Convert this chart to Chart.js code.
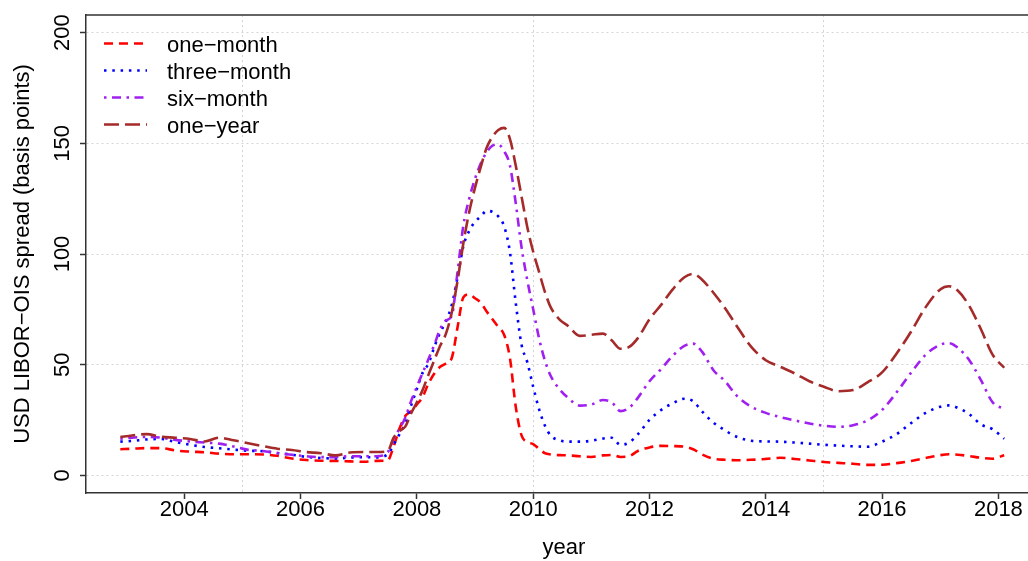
<!DOCTYPE html>
<html>
<head>
<meta charset="utf-8">
<title>USD LIBOR−OIS spread</title>
<script src="https://cdn.jsdelivr.net/npm/chart.js@4.4.1/dist/chart.umd.min.js"></script>
<style>
  html, body { margin: 0; padding: 0; background: #fff; overflow: hidden; }
  #wrap { width: 1028px; height: 561px; overflow: hidden; position: relative; }
  canvas { display: block; }
</style>
</head>
<body>
<div id="wrap"><canvas id="chart" width="1042" height="561"></canvas></div>
<script>
// Observation dates (decimal years)
const years = [
  2002.9, 2003.1, 2003.35, 2003.6, 2003.85, 2004.1, 2004.35, 2004.6, 2004.85, 2005.1,
  2005.35, 2005.6, 2005.85, 2006.1, 2006.35, 2006.6, 2006.85, 2007.1, 2007.3, 2007.5,
  2007.6, 2007.7, 2007.8, 2007.9, 2008.0, 2008.1, 2008.2, 2008.3, 2008.4, 2008.5,
  2008.6, 2008.7, 2008.8, 2008.9, 2009.0, 2009.1, 2009.2, 2009.3, 2009.4, 2009.5,
  2009.6, 2009.7, 2009.8, 2009.9, 2010.0, 2010.1, 2010.2, 2010.3, 2010.45, 2010.6,
  2010.8, 2011.0, 2011.2, 2011.35, 2011.5, 2011.65, 2011.8, 2012.0, 2012.2, 2012.4,
  2012.6, 2012.75, 2012.9, 2013.1, 2013.3, 2013.5, 2013.75, 2014.0, 2014.25, 2014.5,
  2014.75, 2015.0, 2015.25, 2015.5, 2015.75, 2016.0, 2016.25, 2016.5, 2016.75, 2017.0,
  2017.15, 2017.3, 2017.5, 2017.7, 2017.9, 2018.1
];

// Spreads in basis points, one array per tenor
const oneMonth = [
  11.8, 12.0, 12.3, 12.3, 11.2, 10.7, 10.4, 9.8, 9.5, 9.5,
  9.4, 8.8, 7.6, 6.9, 6.6, 6.5, 6.3, 6.1, 6.5, 6.8,
  13, 21, 26.8, 29, 32, 35.5, 41.5, 46, 49, 50.5,
  53, 67, 80.5, 81.8, 80, 78, 74, 70.5, 67, 63.5,
  53, 31, 18, 15, 14.1, 12, 10, 9.4, 9.1, 9.0,
  8.6, 8.3, 9.0, 9.2, 8.3, 8.6, 11, 12.6, 13.3, 13.2,
  12.9, 11.8, 9.5, 7.5, 7.0, 6.8, 7.0, 7.4, 7.9, 7.4,
  6.7, 6.0, 5.6, 5.2, 4.7, 4.8, 5.5, 6.5, 7.8, 9.1,
  9.5, 9.3, 8.7, 7.9, 7.5, 9.1
];
const threeMonth = [
  15.2, 15.5, 16.2, 16.4, 15.0, 13.8, 12.8, 12.2, 11.6, 11.1,
  10.9, 10.1, 9.3, 8.3, 7.8, 7.6, 8.0, 8.2, 8.1, 9.5,
  14, 18.5, 23.5, 31.5, 39, 46.4, 50.5, 58, 64.5, 69.5,
  77, 89.5, 103.6, 110.5, 114.5, 117, 119.5, 119, 117, 112.5,
  100.9, 78, 59, 51, 40, 30, 22.5, 18, 15.8, 15.2,
  15.2, 15.6, 16.6, 17, 13.8, 14.8, 18.5, 25, 29.5, 32.5,
  34.6, 33.5, 29, 23.8, 20.3, 17.4, 15.6, 15.3, 15.2, 14.8,
  14.3, 13.8, 13.4, 13.1, 12.9, 15.2, 18.6, 23.6, 28.2, 31,
  31.6, 30.5, 27.6, 23, 20.8, 16.5
];
const sixMonth = [
  16.5, 17, 17.3, 17, 16, 15.3, 14.8, 14.3, 13, 11.5,
  11, 10, 9.3, 8.6, 8.2, 8.2, 8.6, 8.6, 8.6, 10.5,
  16.5, 21, 26, 33.5, 40, 46.4, 52.5, 59, 66, 70,
  72, 92, 113, 125, 134, 141, 146, 149, 149.5, 146.5,
  140, 123, 103, 88, 75, 62, 52, 45, 39, 35,
  31.5, 32, 34, 33, 29, 30.5, 35, 42.5, 48, 54,
  58.5, 59.5, 56, 47.5, 42.5, 36, 31, 28.2, 26.3, 24.8,
  23.4, 22.4, 21.9, 22.6, 24.8, 29.5, 37.5, 46.4, 54.5, 59,
  59.7, 57.7, 52, 43, 33, 30
];
const oneYear = [
  17.3, 18, 18.6, 17.4, 17, 16.4, 15.3, 17, 15.8, 14.5,
  13.2, 12, 11.4, 10.5, 10, 9, 10.3, 10.5, 10.5, 11,
  17, 20, 22, 28, 33, 38.6, 45.5, 52, 58.5, 64,
  73.6, 88, 105, 119, 130, 139.5, 148, 153, 156, 157,
  152, 140, 126, 112, 101, 92, 83, 76, 70.5, 67.5,
  63, 63.5, 64, 61, 57.2, 58, 62, 70.5, 77, 84,
  89.5, 91, 88.5, 82.5, 75.5, 67.5, 58, 52, 49, 46,
  42.5, 40, 38, 38.5, 42, 46.5, 55, 65, 76, 84,
  85.4, 83.5, 76.5, 66, 54.5, 48.6
];

const seriesLabels = ['one\u2212month', 'three\u2212month', 'six\u2212month', 'one\u2212year'];
const yTicks = [0, 50, 100, 150, 200];
const xTickLabels = [2004, 2006, 2008, 2010, 2012, 2014, 2016, 2018];
const xGridYears = [2005, 2010, 2015];

const FONT = '"Liberation Sans", Arial, Helvetica, sans-serif';
Chart.defaults.font.family = FONT;
Chart.defaults.font.size = 22;
Chart.defaults.color = '#000';

const toPoints = arr => years.map((x, i) => ({ x, y: arr[i] }));

const styles = [
  { color: '#FF0000', dash: [9, 6] },
  { color: '#0000FF', dash: [2.5, 5.8] },
  { color: '#A020F0', dash: [2.5, 5.5, 9, 5.5] },
  { color: '#A52A2A', dash: [15, 6] }
];
const values = [oneMonth, threeMonth, sixMonth, oneYear];

const datasets = values.map((arr, i) => ({
  label: seriesLabels[i],
  data: toPoints(arr),
  borderColor: styles[i].color,
  borderDash: styles[i].dash,
  borderWidth: 2.6,
  order: values.length - i,
  pointRadius: 0,
  fill: false,
  cubicInterpolationMode: 'monotone'
}));

// Legend drawn inside the plot area, top-left, without a box
const insetLegend = {
  id: 'insetLegend',
  afterDraw(chart) {
    const ctx = chart.ctx;
    ctx.save();
    ctx.font = '22px ' + FONT;
    ctx.fillStyle = '#000';
    ctx.textBaseline = 'alphabetic';
    chart.data.datasets.forEach((ds, i) => {
      const y = 43.5 + 27 * i;
      ctx.beginPath();
      ctx.setLineDash(ds.borderDash);
      ctx.lineWidth = ds.borderWidth;
      ctx.strokeStyle = ds.borderColor;
      ctx.lineCap = 'butt';
      ctx.moveTo(104, y);
      ctx.lineTo(147, y);
      ctx.stroke();
      ctx.setLineDash([]);
      ctx.fillText(ds.label, 167, y + 8);
    });
    ctx.restore();
  }
};

// Top and right edges of the plot box
const boxEdges = {
  id: 'boxEdges',
  afterDraw(chart) {
    const { ctx, chartArea } = chart;
    ctx.save();
    ctx.strokeStyle = '#333';
    ctx.lineWidth = 1.5;
    ctx.beginPath();
    ctx.moveTo(chartArea.left - 0.75, chartArea.top);
    ctx.lineTo(chartArea.right, chartArea.top);
    ctx.lineTo(chartArea.right, chartArea.bottom);
    ctx.stroke();
    ctx.restore();
  }
};

new Chart(document.getElementById('chart'), {
  type: 'line',
  data: { datasets },
  plugins: [insetLegend, boxEdges],
  options: {
    responsive: false,
    animation: false,
    devicePixelRatio: 1,
    layout: { padding: { top: 15, left: 0, right: 0, bottom: 0 } },
    plugins: { legend: { display: false }, tooltip: { enabled: false } },
    scales: {
      x: {
        type: 'linear',
        min: 2002.31,
        max: 2018.75,
        afterFit(scale) { scale.height = 68; },
        border: { display: true, color: '#333', width: 1.5, dash: [2, 3] },
        grid: {
          color: ctx => (ctx.tick && xGridYears.includes(Math.round(ctx.tick.value))) ? '#d4d4d4' : 'rgba(0,0,0,0)',
          lineWidth: 1,
          drawTicks: true,
          tickLength: 6,
          tickWidth: 1.5,
          tickColor: ctx => (ctx.tick && xTickLabels.includes(Math.round(ctx.tick.value))) ? '#333' : 'rgba(0,0,0,0)'
        },
        ticks: {
          stepSize: 1,
          includeBounds: false,
          autoSkip: false,
          maxRotation: 0,
          minRotation: 0,
          padding: -2,
          callback: v => xTickLabels.includes(Math.round(v)) ? String(Math.round(v)) : ''
        },
        title: { display: true, text: 'year', padding: { top: 0, bottom: 0 } }
      },
      y: {
        type: 'linear',
        min: -8,
        max: 208,
        afterFit(scale) { scale.width = 86; },
        afterBuildTicks(scale) { scale.ticks = yTicks.map(v => ({ value: v })); },
        border: { display: true, color: '#333', width: 1.5, dash: [2, 3] },
        grid: {
          color: '#d4d4d4',
          lineWidth: 1,
          drawTicks: true,
          tickLength: 6,
          tickWidth: 1.5,
          tickColor: '#333'
        },
        ticks: {
          minRotation: 90,
          maxRotation: 90,
          crossAlign: 'center',
          padding: -1,
          callback: v => String(v)
        },
        title: {
          display: true,
          text: 'USD LIBOR\u2212OIS spread (basis points)',
          padding: { top: 10, bottom: 0 }
        }
      }
    }
  }
});
</script>
</body>
</html>
